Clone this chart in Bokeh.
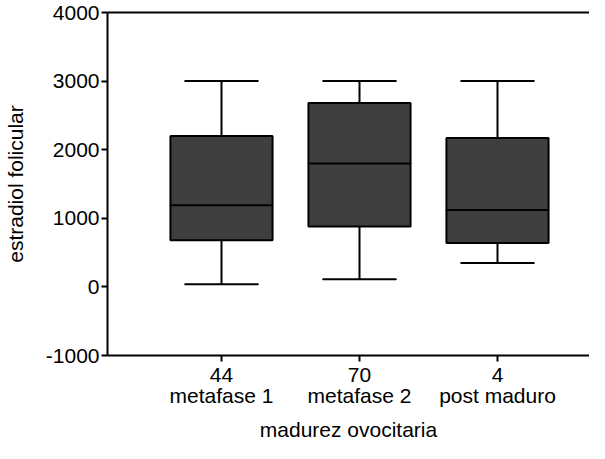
from bokeh.plotting import figure
from bokeh.models import (Range1d, LinearAxis, FixedTicker, ColumnDataSource)
from bokeh.embed import file_html
from bokeh.resources import INLINE

categories = ["metafase 1", "metafase 2", "post maduro"]
counts = ["44", "70", "4"]
lower = [40, 110, 350]
q1 = [680, 880, 640]
median = [1190, 1800, 1120]
q3 = [2200, 2680, 2170]
upper = [3000, 3000, 3000]
y_ticks = [-1000, 0, 1000, 2000, 3000, 4000]
y_tick_labels = ["-1000", "0", "1000", "2000", "3000", "4000"]

xpos = list(range(1, len(categories) + 1))
src = ColumnDataSource(dict(x=xpos, lower=lower, q1=q1, median=median, q3=q3, upper=upper))

FONT = "Liberation Sans"

p = figure(width=589, height=443, output_backend="svg", toolbar_location=None,
           x_range=Range1d(0.1739, 3.6667), y_range=Range1d(-1000, 4000),
           x_axis_location=None, y_axis_location=None,
           min_border_left=0, min_border_right=0, min_border_top=12, min_border_bottom=0)
p.outline_line_color = None
p.xgrid.grid_line_color = None
p.ygrid.grid_line_color = None
p.background_fill_color = "white"
p.border_fill_color = "white"

# whiskers
p.segment(x0="x", y0="q3", x1="x", y1="upper", source=src, line_color="black", line_width=2)
p.segment(x0="x", y0="lower", x1="x", y1="q1", source=src, line_color="black", line_width=2)
p.rect(x="x", y="upper", width=0.53, height=0.01, height_units="screen", source=src,
       line_color="black", line_width=2, fill_color=None)
p.rect(x="x", y="lower", width=0.53, height=0.01, height_units="screen", source=src,
       line_color="black", line_width=2, fill_color=None)
# boxes
p.vbar(x="x", width=0.74, bottom="q1", top="q3", source=src,
       fill_color="#3f3f3f", line_color="black", line_width=2)
p.rect(x="x", y="median", width=0.74, height=0.01, height_units="screen", source=src,
       line_color="black", line_width=2, fill_color=None)

# top line (axis without ticks)
top = LinearAxis(ticker=FixedTicker(ticks=[]))
top.major_tick_out = 0
top.major_tick_in = 0
top.major_tick_line_color = None
top.minor_tick_line_color = None
top.major_label_text_font_size = "0px"
top.major_label_standoff = 0
top.axis_line_width = 2
p.add_layout(top, "above")

# left axis
yax = LinearAxis(ticker=FixedTicker(ticks=y_ticks), axis_label="estradiol folicular")
yax.major_label_overrides = {t: l for t, l in zip(y_ticks, y_tick_labels)}
yax.minor_tick_line_color = None
yax.major_tick_out = 6
yax.major_tick_in = 0
yax.major_tick_line_width = 2
yax.axis_line_width = 2
yax.major_label_standoff = 2
yax.major_label_text_font = FONT
yax.major_label_text_font_size = "21px"
yax.major_label_text_color = "black"
yax.axis_label_text_font = FONT
yax.axis_label_text_font_size = "21px"
yax.axis_label_text_font_style = "normal"
yax.axis_label_text_color = "black"
yax.axis_label_standoff = 16
p.add_layout(yax, "left")

# bottom axis with counts
xax = LinearAxis(ticker=FixedTicker(ticks=xpos))
xax.major_label_overrides = {x: c for x, c in zip(xpos, counts)}
xax.minor_tick_line_color = None
xax.major_tick_out = 6
xax.major_tick_in = 0
xax.major_tick_line_width = 2
xax.axis_line_width = 2
xax.major_label_standoff = 6
xax.major_label_text_font = FONT
xax.major_label_text_font_size = "21px"
xax.major_label_text_color = "black"
p.add_layout(xax, "below")

# category names
xax2 = LinearAxis(ticker=FixedTicker(ticks=xpos), axis_label="madurez ovocitaria")
xax2.major_label_overrides = {x: c for x, c in zip(xpos, categories)}
xax2.axis_line_color = None
xax2.major_tick_line_color = None
xax2.minor_tick_line_color = None
xax2.major_tick_out = 0
xax2.major_label_standoff = -1
xax2.major_label_text_font = FONT
xax2.major_label_text_font_size = "21px"
xax2.major_label_text_color = "black"
xax2.axis_label_text_font = FONT
xax2.axis_label_text_font_size = "21px"
xax2.axis_label_text_font_style = "normal"
xax2.axis_label_text_color = "black"
xax2.axis_label_standoff = 8
p.add_layout(xax2, "below")

open("out.html", "w").write(file_html(p, INLINE))
